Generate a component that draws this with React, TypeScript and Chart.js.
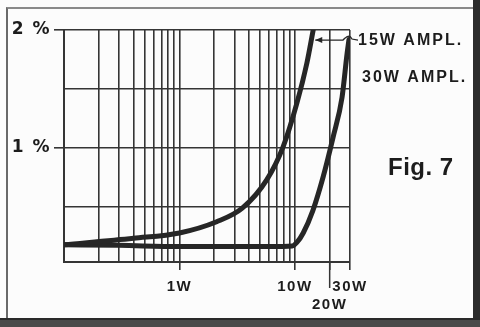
import React, { useEffect, useRef } from "react";
import { Chart, registerables } from "chart.js";

Chart.register(...registerables);

// Output power (W) and distortion (%)
const power15W = [0.1, 0.4, 1, 2.1, 3.5, 5.7, 7.9, 10.4, 12.7, 14.4];
const thd15W = [0.18, 0.235, 0.28, 0.375, 0.49, 0.73, 1.01, 1.38, 1.72, 2.0];

const power30W = [0.1, 0.3, 1, 3, 6, 9.5, 10.4, 11.8, 14.3, 17.5, 21.4, 25.6, 28.3, 29.4];
const thd30W = [0.18, 0.175, 0.165, 0.165, 0.165, 0.17, 0.2, 0.28, 0.47, 0.75, 1.09, 1.43, 1.8, 1.92];

const xGridValues = [0.1, 0.2, 0.3, 0.4, 0.5, 0.6, 0.7, 0.8, 0.9, 1, 2, 3, 4, 5, 6, 7, 8, 9, 10, 20, 30];
const xTickLabels: Record<string, string | string[]> = { "1": "1W", "10": "10W", "20": ["", "20W"], "30": "30W" };
const yGridValues = [0.5, 1, 1.5, 2];
const yTickLabels: Record<string, string> = { "1": "1 %", "2": "2 %" };

const seriesNames = ["15W AMPL.", "30W AMPL."];
const figLabel = "Fig. 7";

const INK = "#262626";
const GRID = "#353535";

const annotations = {
  id: "annotations",
  beforeDraw(chart: any) {
    chart.ctx.letterSpacing = "1.5px";
  },
  afterDraw(chart: any) {
    const { ctx, chartArea, scales } = chart;
    const x = scales.x;
    const y = scales.y;
    ctx.save();
    // extended tick for 20W
    ctx.strokeStyle = GRID;
    ctx.lineWidth = 1.5;
    const x20 = x.getPixelForValue(20);
    ctx.beginPath();
    ctx.moveTo(x20, chartArea.bottom);
    ctx.lineTo(x20, chartArea.bottom + 26);
    ctx.stroke();

    // leader line for 15W curve
    const ly = y.getPixelForValue(1.915);
    const lx0 = x.getPixelForValue(15.0);
    const lx1 = chartArea.right + 6;
    ctx.strokeStyle = INK;
    ctx.lineWidth = 1.3;
    ctx.beginPath();
    ctx.moveTo(lx0, ly);
    ctx.lineTo(lx1 - 13, ly);
    ctx.quadraticCurveTo(lx1 - 7, ly - 7, lx1 - 4, ly - 1);
    ctx.lineTo(lx1 + 2, ly);
    ctx.stroke();
    ctx.fillStyle = INK;
    ctx.beginPath();
    ctx.moveTo(lx0, ly);
    ctx.lineTo(lx0 + 7, ly - 3);
    ctx.lineTo(lx0 + 7, ly + 3);
    ctx.closePath();
    ctx.fill();

    // labels
    ctx.fillStyle = "#1c1c1c";
    ctx.textBaseline = "middle";
    ctx.textAlign = "left";
    ctx.letterSpacing = "2px";
    ctx.font = "bold 16px 'Liberation Sans'";
    ctx.fillText(seriesNames[0], chartArea.right + 8, ly + 1);
    ctx.fillText(seriesNames[1], chartArea.right + 12, y.getPixelForValue(1.6));
    ctx.letterSpacing = "0.5px";
    ctx.font = "bold 24px 'Liberation Sans'";
    ctx.fillText(figLabel, chartArea.right + 38, y.getPixelForValue(0.83));
    ctx.restore();
  },
};

export default function App() {
  const canvasRef = useRef<HTMLCanvasElement>(null);

  useEffect(() => {
    document.body.style.margin = "0";
    const canvas = canvasRef.current!;
    const chart = new Chart(canvas, {
      type: "line",
      data: {
        datasets: [
          {
            label: seriesNames[0],
            data: power15W.map((p, i) => ({ x: p, y: thd15W[i] })),
            borderColor: INK,
            borderWidth: 5,
            pointRadius: 0,
            cubicInterpolationMode: "monotone",
            borderCapStyle: "round",
          },
          {
            label: seriesNames[1],
            data: power30W.map((p, i) => ({ x: p, y: thd30W[i] })),
            borderColor: INK,
            borderWidth: 5,
            pointRadius: 0,
            cubicInterpolationMode: "monotone",
            borderCapStyle: "round",
          },
        ],
      },
      options: {
        responsive: false,
        animation: false,
        devicePixelRatio: 1,
        layout: { padding: { left: 0, right: 130, top: 30, bottom: 0 } },
        plugins: { legend: { display: false }, tooltip: { enabled: false } },
        scales: {
          x: {
            type: "logarithmic",
            min: 0.1,
            max: 30,
            afterBuildTicks: (scale: any) => {
              scale.ticks = xGridValues.map((v) => ({ value: v }));
            },
            afterFit: (scale: any) => {
              scale.height = 65;
            },
            ticks: {
              autoSkip: false,
              maxRotation: 0,
              padding: 7,
              color: "#1c1c1c",
              font: { family: "'Liberation Sans'", size: 15, weight: "bold", lineHeight: 1.25 },
              callback: (v: any) => xTickLabels[String(v)] ?? "",
            },
            grid: {
              color: GRID,
              lineWidth: 1.6,
              tickLength: 8,
              tickColor: (ctx: any) => (ctx.tick && xTickLabels[String(ctx.tick.value)] ? GRID : "rgba(0,0,0,0)"),
            },
            border: { color: GRID, width: 2 },
          },
          y: {
            type: "linear",
            min: 0.034,
            max: 2,
            afterBuildTicks: (scale: any) => {
              scale.ticks = yGridValues.map((v) => ({ value: v }));
            },
            afterFit: (scale: any) => {
              scale.width = 64;
            },
            ticks: {
              autoSkip: false,
              padding: 3,
              color: "#1c1c1c",
              font: { family: "'DejaVu Sans'", size: 17, weight: "bold" },
              callback: (v: any) => yTickLabels[String(v)] ?? "",
            },
            grid: {
              color: GRID,
              lineWidth: 1.6,
              tickLength: 10,
              tickColor: (ctx: any) => (ctx.tick && yTickLabels[String(ctx.tick.value)] ? GRID : "rgba(0,0,0,0)"),
            },
            border: { color: GRID, width: 2 },
          },
        },
      },
      plugins: [annotations],
    });
    return () => chart.destroy();
  }, []);

  return (
    <div style={{ position: "absolute", left: 0, top: 0, width: 480, height: 327, background: "#fcfcfc", overflow: "hidden" }}>
      <div style={{ position: "absolute", left: 6, top: 7, width: 467, height: 312, borderTop: "2px solid #8a8a8a", borderLeft: "2px solid #6a6a6a", boxSizing: "border-box" }} />
      <div style={{ position: "absolute", left: 473, top: 0, width: 7, height: 327, background: "#2c2c2c" }} />
      <div style={{ position: "absolute", left: 0, top: 318, width: 480, height: 9, background: "#4a4a4a", borderTop: "2px solid #2a2a2a", boxSizing: "border-box" }} />
      <canvas ref={canvasRef} width={480} height={327} style={{ position: "absolute", left: 0, top: 0 }} />
    </div>
  );
}
